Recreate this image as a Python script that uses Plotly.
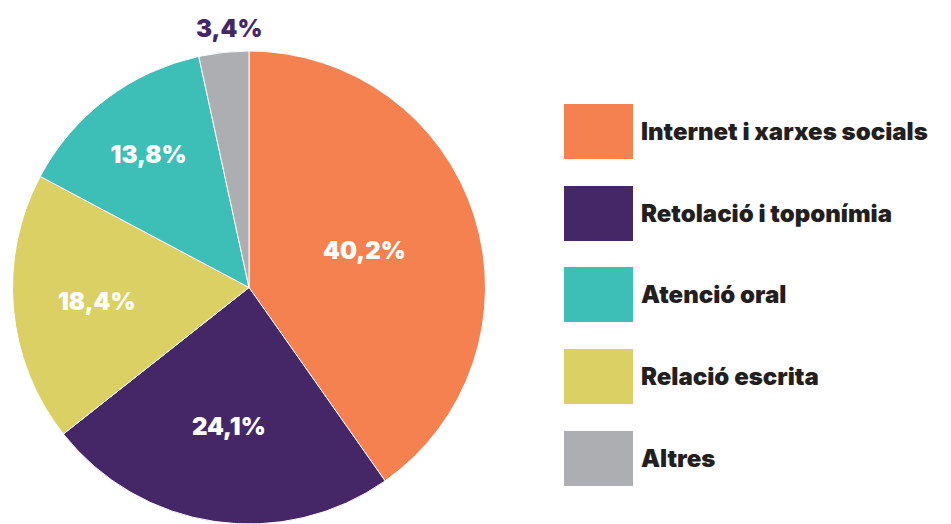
import plotly.graph_objects as go

legend_order = ["Internet i xarxes socials", "Retolació i toponímia", "Atenció oral", "Relació escrita", "Altres"]
# slice order clockwise from 12 o'clock
slice_labels = ["Internet i xarxes socials", "Retolació i toponímia", "Relació escrita", "Atenció oral", "Altres"]
slice_values = [40.2, 24.1, 18.4, 13.8, 3.4]
colors_map = {
    "Internet i xarxes socials": "#F58151",
    "Retolació i toponímia": "#452768",
    "Atenció oral": "#3DBFB7",
    "Relació escrita": "#DBD063",
    "Altres": "#ADAEB1",
}

OFF = 8  # page body margin
W, H = 951 - OFF, 524 - OFF
FONT = "Inter"

texts = [f"{v:.1f}%".replace(".", ",") for v in slice_values]
positions = ["inside", "inside", "inside", "inside", "none"]

cx, cy, r = 249 - OFF, 289 - OFF, 238  # pixel geometry of pie

fig = go.Figure(go.Pie(
    labels=slice_labels,
    values=slice_values,
    sort=False,
    direction="clockwise",
    rotation=0,
    marker=dict(colors=[colors_map[l] for l in slice_labels], line=dict(color="white", width=1)),
    text=texts,
    textinfo="text",
    textposition=positions,
    insidetextorientation="horizontal",
    textfont=dict(family=FONT, size=24, color="white", weight=900),
    domain=dict(x=[(cx - r) / W, (cx + r) / W], y=[max(0, (H - cy - r) / H), (H - cy + r) / H]),
    showlegend=False,
    hoverinfo="label+percent",
))

# small slice label placed above the pie
fig.add_annotation(xref="paper", yref="paper", x=(229 - OFF) / W, y=1 - (29 - OFF) / H,
                   text=texts[-1], showarrow=False, xanchor="center", yanchor="middle",
                   font=dict(family=FONT, size=24, color="#452768", weight=900))

tops = [104, 186, 267, 349, 431]
for lab, top in zip(legend_order, tops):
    t = top - OFF
    fig.add_shape(type="rect", xref="paper", yref="paper",
                  x0=(564 - OFF) / W, x1=(633 - OFF) / W, y0=1 - (t + 55) / H, y1=1 - t / H,
                  fillcolor=colors_map[lab], line=dict(width=0))
    fig.add_annotation(xref="paper", yref="paper", x=(639 - OFF) / W, y=1 - (t + 27.5) / H,
                       text=lab, showarrow=False, xanchor="left", yanchor="middle",
                       font=dict(family=FONT, size=24, color="#231F20", weight=900))

fig.update_layout(
    width=W, height=H,
    margin=dict(l=0, r=0, t=0, b=0),
    paper_bgcolor="white", plot_bgcolor="white",
)
fig.write_html("out.html")
